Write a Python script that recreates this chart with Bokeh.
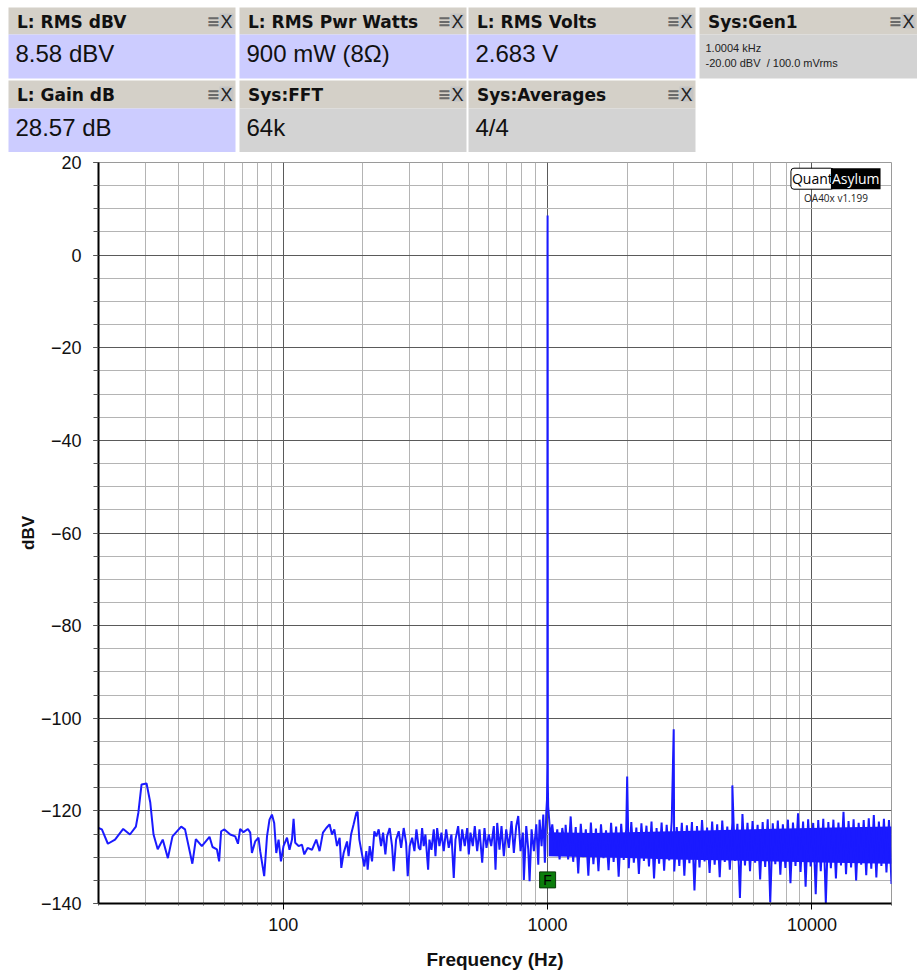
import numpy as np
from bokeh.plotting import figure
from bokeh.layouts import column
from bokeh.models import Range1d, FixedTicker, BasicTickFormatter, Label
from bokeh.core.properties import value
from bokeh.embed import file_html
from bokeh.resources import INLINE

# ---------------------------------------------------------------
# Measurement readouts shown above the spectrum
# ---------------------------------------------------------------
row1_titles = ["L: RMS dBV", "L: RMS Pwr Watts", "L: RMS Volts", "Sys:Gen1"]
row1_values = ["8.58 dBV", "900 mW (8\u03a9)", "2.683 V", ""]
row2_titles = ["L: Gain dB", "Sys:FFT", "Sys:Averages"]
row2_values = ["28.57 dB", "64k", "4/4"]
gen1_lines = ["1.0004 kHz", "-20.00 dBV\u00a0 / 100.0 mVrms"]

# ---------------------------------------------------------------
# FFT spectrum, left channel (frequency in Hz, level in dBV)
# ---------------------------------------------------------------
trace_freq = [
    20.0, 20.6, 21.7, 23.1, 24.8, 26.3, 27.7, 28.3, 29.1, 30.4,
    31.4, 32.3, 33.5, 35.0, 36.6, 38.1, 41.1, 42.5, 45.3, 46.7,
    49.2, 52.6, 54.0, 56.1, 57.2, 58.2, 59.9, 63.0, 65.8, 67.4,
    68.7, 70.7, 73.5, 75.0, 76.1, 78.3, 80.6, 81.8, 84.7, 86.8,
    88.7, 90.6, 92.4, 94.1, 96.0, 98.0, 100.2, 103.3, 105.6, 107.9,
    109.4, 111.0, 114.3, 117.7, 120.1, 123.6, 128.4, 133.3, 137.2, 141.3,
    145.5, 149.7, 152.9, 156.0, 159.7, 163.4, 165.8, 169.2, 174.3, 176.7,
    180.5, 184.6, 189.0, 191.1, 194.0, 198.6, 202.6, 206.2, 208.6, 212.3,
    216.7, 221.1, 225.0, 229.6, 234.4, 238.6, 243.4, 247.0, 252.7, 258.0,
    261.7, 267.2, 273.4, 279.2, 285.5, 291.6, 295.7, 300.9, 307.3, 313.5,
    319.0, 325.5, 330.3, 335.2, 339.9, 345.0, 353.2, 357.3, 363.6, 371.0,
    376.5, 382.1, 389.8, 396.7, 404.7, 413.3, 422.7, 432.8, 441.6, 448.2,
    458.8, 468.1, 475.1, 486.0, 496.3, 503.3, 510.8, 521.2, 530.3, 541.5,
    552.5, 565.7, 577.1, 587.2, 599.2, 611.9, 626.0, 635.3, 644.8, 657.8,
    669.3, 683.0, 697.4, 713.5, 730.5, 745.3, 761.0, 774.4, 790.2, 806.2,
    813.2, 830.4, 845.1, 854.8, 869.8, 887.4, 906.2, 922.1, 932.6, 949.0,
    963.1, 976.5, 988.5, 995.0, 998.0, 999.3, 1000.0, 1000.7, 1002.0, 1005.0,
    1026.0, 1041.6, 1065.6, 1088.0, 1110.0, 1136.6, 1163.0,
]
trace_dbv = [
    -123.7, -124.0, -127.1, -126.2, -123.9, -125.1, -123.4, -120.4, -114.3, -114.1,
    -118.2, -125.1, -128.3, -126.2, -130.2, -125.5, -123.4, -124.0, -131.4, -126.1,
    -127.6, -125.6, -127.8, -128.3, -130.9, -124.4, -124.0, -125.1, -125.5, -127.1,
    -123.9, -124.6, -123.9, -124.7, -129.1, -126.6, -125.8, -128.7, -134.1, -125.5,
    -121.9, -120.8, -122.6, -129.1, -126.2, -130.9, -127.6, -125.8, -128.4, -126.2,
    -121.7, -126.9, -127.6, -127.3, -129.4, -128.0, -128.4, -126.2, -128.7, -124.7,
    -123.7, -122.9, -125.1, -124.0, -127.6, -125.8, -132.3, -129.1, -126.6, -129.8,
    -125.1, -122.9, -120.4, -120.2, -126.2, -129.4, -132.0, -128.7, -132.7, -127.6,
    -130.9, -124.4, -125.5, -124.0, -127.6, -124.7, -129.4, -125.5, -123.7, -127.6,
    -133.0, -126.2, -124.4, -128.0, -123.7, -126.9, -134.1, -127.6, -125.8, -128.7,
    -124.0, -128.0, -128.4, -123.7, -127.6, -125.1, -132.7, -126.2, -128.4, -124.0,
    -129.8, -123.7, -127.6, -124.7, -128.7, -124.0, -128.0, -125.1, -134.5, -126.2,
    -123.3, -128.7, -124.0, -127.6, -123.7, -129.4, -124.7, -127.6, -123.3, -128.7,
    -124.0, -131.2, -123.7, -128.0, -125.1, -127.6, -123.3, -132.7, -122.6, -128.4,
    -123.3, -129.8, -124.0, -128.0, -122.2, -129.1, -123.3, -121.1, -128.7, -124.7,
    -134.9, -123.3, -128.4, -135.2, -124.0, -128.7, -122.9, -131.6, -121.9, -127.6,
    -120.8, -131.2, -120.4, -117.5, -110.0, 2.5, 8.58, -8.0, -114.0, -119.0,
    -125.8, -122.9, -128.4, -124.0, -130.5, -123.7, -127.6,
]

# Upper band 1.17 kHz .. 20 kHz, one level per display bin
band_start_hz = 1170.0
band_stop_hz = 20000.0
band_dbv = [
    -123.0, -130.5, -121.2, -131.0, -123.5, -133.5, -122.8, -130.0, -124.0, -134.0,
    -122.5, -131.5, -123.8, -133.0, -122.9, -130.2, -124.2, -132.8, -122.6, -131.0,
    -123.4, -134.2, -122.8, -130.6, -123.9, -132.4, -122.4, -131.2, -123.6, -133.6,
    -122.7, -130.8, -123.2, -132.0, -122.3, -134.6, -123.7, -131.4, -122.5, -132.9,
    -123.0, -130.7, -122.2, -133.1, -123.5, -131.9, -122.6, -134.0, -123.1, -131.3,
    -122.4, -137.2, -123.3, -132.2, -122.0, -130.9, -123.6, -133.4, -122.3, -131.6,
    -122.9, -134.3, -122.1, -131.0, -123.4, -132.7, -122.5, -130.8, -122.8, -138.8,
    -120.7, -131.8, -122.6, -133.0, -122.2, -131.2, -123.0, -134.8, -122.4, -132.1,
    -121.8, -139.7, -122.7, -131.5, -122.1, -133.8, -122.9, -132.3, -121.9, -135.6,
    -122.5, -131.9, -120.5, -133.2, -122.3, -136.4, -121.8, -132.0, -122.6, -138.0,
    -122.0, -133.0, -121.7, -139.9, -122.4, -132.4, -121.9, -134.6, -122.5, -131.8,
    -120.2, -133.7, -122.2, -132.2, -121.8, -135.0, -122.6, -131.6, -122.0, -133.9,
    -121.6, -132.5, -120.9, -134.4, -122.3, -131.9, -121.7, -133.3, -122.0, -135.8,
]

# Distortion products of the 1 kHz tone
harmonic_freq = [2000.0, 3000.0, 5000.0]
harmonic_dbv = [-112.6, -102.4, -114.5]

# Solid core of the noise floor above 1 kHz
core_freq = [1010.0, 1500.0, 2000.0, 3000.0, 5000.0, 8000.0, 12000.0, 20000.0]
core_hi = [-124.6, -124.8, -124.6, -124.4, -124.1, -123.8, -123.6, -123.4]
core_lo = [-129.8, -130.0, -130.2, -130.5, -130.7, -131.0, -131.2, -131.4]

# Fundamental marker
marker_freq = [1000.0]
marker_dbv = [-134.9]

# Axis ticks
y_major = list(range(-140, 21, 20))
y_minor = list(range(-140, 21, 5))
x_major = [100, 1000, 10000]
x_minor = [m * 10 ** d for d in (1, 2, 3) for m in range(2, 10)] + [20000]

# ---------------------------------------------------------------
# Assemble the full trace
# ---------------------------------------------------------------
band_freq = np.geomspace(band_start_hz, band_stop_hz, len(band_dbv))
all_freq = np.concatenate([trace_freq, band_freq, harmonic_freq])
all_dbv = np.concatenate([trace_dbv, band_dbv, harmonic_dbv])
order = np.argsort(all_freq, kind="stable")
all_freq = all_freq[order]
all_dbv = all_dbv[order]

TRACE = "#1a1aff"


def no_frame_align(fig):
    # keep each figure's inner frame independent inside the column
    if "frame_align" in fig.properties():
        fig.frame_align = False


# ---------------------------------------------------------------
# Readout panel strip
# ---------------------------------------------------------------
W = 917
HEAD_H = 152
head = figure(width=W, height=HEAD_H, x_range=Range1d(0, W), y_range=Range1d(HEAD_H, 0),
              toolbar_location=None, output_backend="svg", min_border=0)
head.axis.visible = False
head.grid.visible = False
head.outline_line_color = None
head.background_fill_color = "white"
head.border_fill_color = "white"
no_frame_align(head)

PANEL_LEFT = [8, 239, 468, 699]
PANEL_W = 227
ROW_GEOM = [(7, 34, 78), (80, 108, 152)]  # top, title-bar bottom, bottom
TITLE_BG = "#d4d0c8"
L_BG = "#ccccff"
SYS_BG = "#d3d3d3"

rows = [(row1_titles, row1_values), (row2_titles, row2_values)]
for (titles, values), (top, mid, bot) in zip(rows, ROW_GEOM):
    n = len(titles)
    lefts = PANEL_LEFT[:n]
    rights = [l + PANEL_W for l in lefts]
    btn = [min(r, W) for r in rights]  # buttons stay inside the strip
    bgs = [L_BG if t.startswith("L:") else SYS_BG for t in titles]
    head.quad(left=lefts, right=rights, top=[top] * n, bottom=[mid] * n,
              fill_color=TITLE_BG, line_color=None)
    head.quad(left=lefts, right=rights, top=[mid] * n, bottom=[bot] * n,
              fill_color=bgs, line_color=None)
    # close / menu buttons
    head.quad(left=[r - 16 for r in btn], right=[r - 2 for r in btn],
              top=[top + 6] * n, bottom=[top + 21] * n, fill_color="#c4c4c4", line_color=None)
    head.text(x=[r - 29 for r in btn], y=[top + 14] * n, text=["\u2261"] * n,
              text_font=value("DejaVu Sans"), text_font_style="bold", text_font_size="16px",
              text_color="#6a6a6a", text_baseline="middle")
    head.text(x=[r - 9 for r in btn], y=[top + 14] * n, text=["X"] * n,
              text_font=value("Liberation Sans"), text_font_size="18px",
              text_color="#222222", text_baseline="middle", text_align="center")
    head.text(x=[l + 8.5 for l in lefts], y=[top + 14] * n, text=titles,
              text_font=value("DejaVu Sans"), text_font_style="bold", text_font_size="17px",
              text_color="#111111", text_baseline="middle")
    head.text(x=[l + 7 for l in lefts], y=[bot - 25.5] * n, text=values,
              text_font=value("Liberation Sans"), text_font_size="24px",
              text_color="#111111", text_baseline="middle")

gen_left = PANEL_LEFT[3]
head.text(x=[gen_left + 6, gen_left + 6], y=[47, 62], text=gen1_lines,
          text_font=value("Liberation Sans"), text_font_size="11px",
          text_color="#222222", text_baseline="middle")

# ---------------------------------------------------------------
# Spectrum plot
# ---------------------------------------------------------------
p = figure(width=W, height=972 - HEAD_H, x_axis_type="log",
           x_range=Range1d(20, 20000), y_range=Range1d(-140, 20),
           toolbar_location=None, output_backend="svg",
           min_border_left=98, min_border_right=26, min_border_top=10, min_border_bottom=69)
p.background_fill_color = "white"
p.border_fill_color = "white"
p.outline_line_color = "#9a9a9a"
no_frame_align(p)

p.xaxis.ticker = FixedTicker(ticks=x_major, minor_ticks=x_minor)
p.yaxis.ticker = FixedTicker(ticks=y_major, minor_ticks=y_minor)
p.xaxis.formatter = BasicTickFormatter(use_scientific=False)

for g in (p.xgrid, p.ygrid):
    g.grid_line_color = "#5a5a5a"
    g.grid_line_width = 1
    g.minor_grid_line_color = "#b4b4b4"
    g.minor_grid_line_width = 1

for ax in (p.xaxis, p.yaxis):
    ax.axis_line_color = "black"
    ax.axis_line_width = 2
    ax.major_tick_line_color = "black"
    ax.minor_tick_line_color = "#555555"
    ax.major_tick_in = 0
    ax.minor_tick_in = 0
    ax.major_label_text_font = "Liberation Sans"
    ax.major_label_text_font_size = "18px"
    ax.major_label_text_color = "#111111"
    ax.axis_label_text_font = "Liberation Sans"
    ax.axis_label_text_font_style = "bold"
    ax.axis_label_text_color = "#111111"

p.xaxis.major_tick_out = 6
p.xaxis.minor_tick_out = 2
p.yaxis.major_tick_out = 5
p.yaxis.minor_tick_out = 5
p.xaxis.major_label_standoff = 8
p.yaxis.major_label_standoff = 12
p.xaxis.axis_label = "Frequency (Hz)"
p.yaxis.axis_label = "dBV"
p.xaxis.axis_label_text_font_size = "19px"
p.yaxis.axis_label_text_font_size = "17px"
p.xaxis.axis_label_standoff = 15
p.yaxis.axis_label_standoff = 0

p.varea(x=core_freq, y1=core_lo, y2=core_hi, fill_color=TRACE)
p.line(all_freq, all_dbv, line_color=TRACE, line_width=2.0)

p.scatter(marker_freq, marker_dbv, marker="square", size=16,
          fill_color="#0b7d0b", line_color="#0a3a0a", line_width=1)
p.text(marker_freq, marker_dbv, text=["F"], text_align="center", text_baseline="middle",
       text_font=value("Liberation Sans"), text_font_size="14px", text_color="black")

# Vendor badge in the top right corner
p.add_layout(Label(x=8330, y=16.5, text="Quant", text_font="Open Sans", text_font_size="14px",
                   text_color="black", text_baseline="middle", background_fill_color="white",
                   border_line_color="black", border_line_width=1, padding=1, border_radius=3))
p.add_layout(Label(x=11800, y=16.5, text="Asylum", text_font="Open Sans", text_font_size="14px",
                   text_color="white", text_baseline="middle", background_fill_color="black",
                   padding=1))
p.add_layout(Label(x=12330, y=12.4, text="OA40x v1.199", text_font="Open Sans",
                   text_font_size="10px", text_color="#222222", text_align="center",
                   text_baseline="middle"))

layout = column(head, p, spacing=0)
open("out.html", "w").write(file_html(layout, INLINE, title="Spectrum"))
